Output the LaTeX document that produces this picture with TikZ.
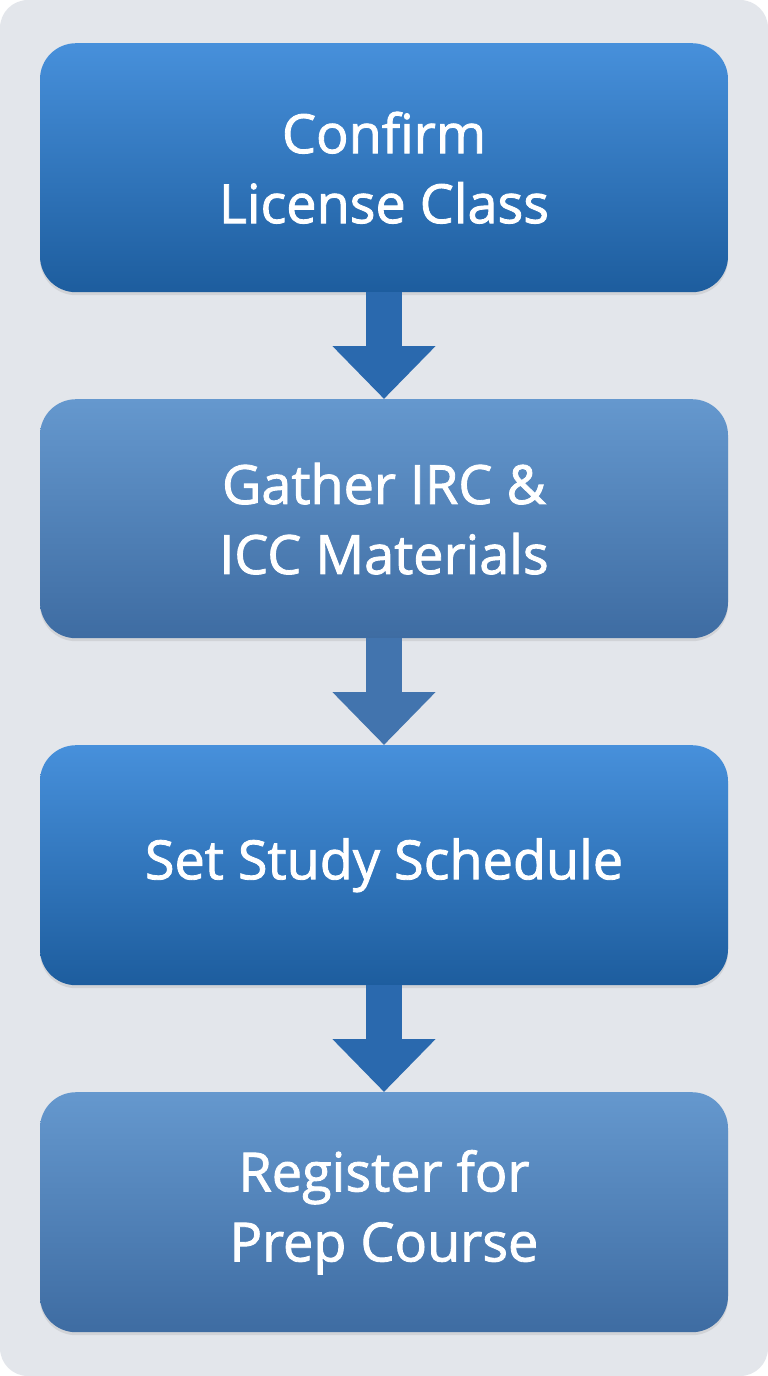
\documentclass[tikz,border=0pt]{standalone}
\usepackage{fontspec}
\setmainfont{Open Sans}[UprightFont=*, FakeBold=1.6]
\usetikzlibrary{arrows.meta,shadows}
\definecolor{bg}{HTML}{E3E6EB}
\definecolor{atop}{HTML}{4790DB}
\definecolor{abot}{HTML}{1D5D9E}
\definecolor{btop}{HTML}{6598CE}
\definecolor{bbot}{HTML}{3E6CA2}
\definecolor{arrA}{HTML}{2A69AE}
\definecolor{arrB}{HTML}{4274AE}
\tikzset{
 stepbox/.style={rounded corners=36pt, minimum width=688pt, anchor=north, inner sep=0pt,
   text=white, align=center, font=\fontsize{54}{70}\selectfont,
   drop shadow={opacity=0.18,shadow xshift=0pt,shadow yshift=-3pt}},
 boxA/.style={stepbox, top color=atop, bottom color=abot},
 boxB/.style={stepbox, top color=btop, bottom color=bbot},
 flow/.style={line width=36pt, -{Triangle[width=100pt,length=53pt]}},
}
\begin{document}
\begin{tikzpicture}[x=1pt,y=-1pt]
\useasboundingbox (0,0) rectangle (768,1376);
\fill[white] (0,0) rectangle (768,1376);
\fill[bg, rounded corners=28pt] (0,0) rectangle (768,1376);
\node[boxA, minimum height=249pt] (b1) at (384,43) {Confirm\\License Class};
\node[boxB, minimum height=239pt] (b2) at (384,399) {Gather IRC \&\\ICC Materials};
\node[boxA, minimum height=240pt] (b3) at (384,745) {Set Study Schedule};
\node[boxB, minimum height=240pt] (b4) at (384,1092) {Register for\\Prep Course};
\draw[flow, arrA] (b1.south) -- (b2.north);
\draw[flow, arrB] (b2.south) -- (b3.north);
\draw[flow, arrA] (b3.south) -- (b4.north);
\end{tikzpicture}
\end{document}
